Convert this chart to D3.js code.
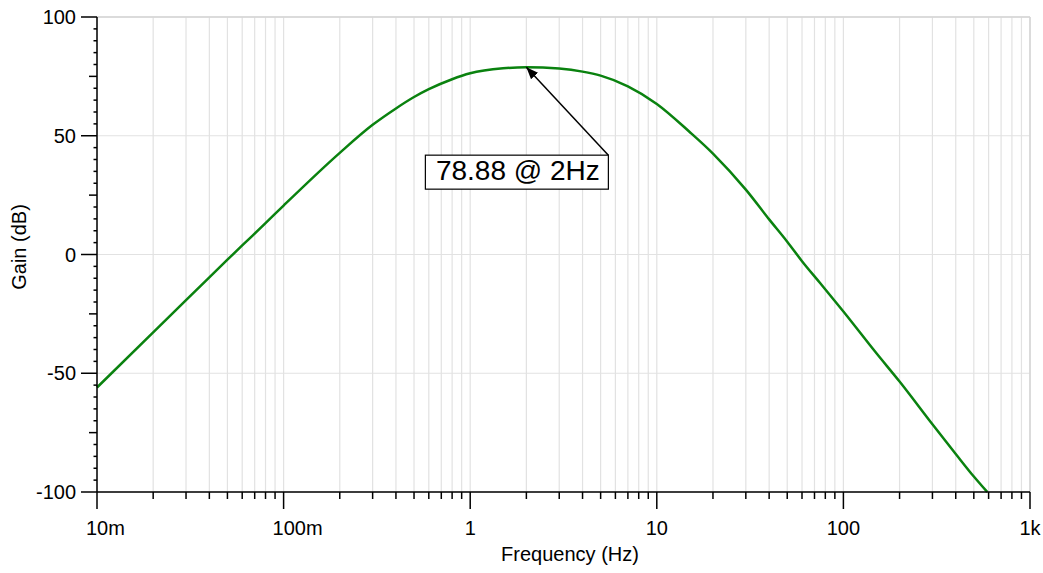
<!DOCTYPE html>
<html>
<head>
<meta charset="utf-8">
<script src="https://cdn.jsdelivr.net/npm/d3@7"></script>
<style>
  html, body { margin: 0; padding: 0; background: #fff; }
  svg { display: block; font-family: "Liberation Sans", Arial, sans-serif; }
</style>
</head>
<body>
<svg id="chart" width="1043" height="573"></svg>
<script>
// ---- data ----
const freqHz = [0.01, 0.02, 0.03, 0.04, 0.05, 0.06, 0.08, 0.1, 0.2, 0.3, 0.4, 0.5, 0.6, 0.8, 1, 1.5, 2, 3, 4, 5, 7, 10, 15, 20, 30, 40, 50, 60, 75, 100, 150, 200, 300, 400, 500, 590];
const gainDb = [-56, -32.8, -19.2, -9.6, -2.2, 3.8, 13.2, 20.6, 42.8, 54.6, 61.5, 66.3, 69.6, 73.8, 76.3, 78.4, 78.88, 78.3, 77.0, 75.3, 70.8, 63.4, 51.6, 42.5, 27.3, 14.8, 5.4, -2.8, -12, -24, -41.5, -53.5, -71.5, -84, -93.5, -100];
const xTickValues = [0.01, 0.1, 1, 10, 100, 1000];
const xTickLabels = ["10m", "100m", "1", "10", "100", "1k"];
const yTickValues = [-100, -50, 0, 50, 100];
const yTickLabels = ["-100", "-50", "0", "50", "100"];
const peakFreq = 2;
const peakGain = 78.88;
const annotationText = "78.88 @ 2Hz";
const xTitle = "Frequency (Hz)";
const yTitle = "Gain (dB)";

// ---- layout ----
const L = 97, R = 1030, T = 17, B = 492;
const svg = d3.select("#chart");
const x = d3.scaleLog().domain([0.01, 1000]).range([L, R]);
const y = d3.scaleLinear().domain([-100, 100]).range([B, T]);

const allXTicks = x.ticks(); // 1..9 multiples in each decade

// ---- grid ----
const grid = svg.append("g");
grid.selectAll("line.v").data(allXTicks).enter().append("line")
  .attr("x1", d => x(d)).attr("x2", d => x(d))
  .attr("y1", T).attr("y2", B)
  .attr("stroke", "#e2e2e2").attr("stroke-width", 1.2);
grid.selectAll("line.h").data(yTickValues).enter().append("line")
  .attr("x1", L).attr("x2", R)
  .attr("y1", d => y(d)).attr("y2", d => y(d))
  .attr("stroke", "#e2e2e2").attr("stroke-width", 1.2);
svg.append("line").attr("x1", L).attr("x2", R).attr("y1", T).attr("y2", T)
  .attr("stroke", "#d4d4d4").attr("stroke-width", 1.5);
svg.append("line").attr("x1", R).attr("x2", R).attr("y1", T).attr("y2", B)
  .attr("stroke", "#d4d4d4").attr("stroke-width", 1.5);

// ---- curve ----
const pts = freqHz.map((f, i) => [f, gainDb[i]]);
const line = d3.line().x(d => x(d[0])).y(d => y(d[1])).curve(d3.curveMonotoneX);
svg.append("path").datum(pts)
  .attr("d", line)
  .attr("fill", "none")
  .attr("stroke", "#0a820f")
  .attr("stroke-width", 2.5)
  .attr("stroke-linejoin", "round");

// ---- axes ----
const ax = svg.append("g").attr("stroke", "#000").attr("stroke-width", 1.5);
ax.append("line").attr("x1", L).attr("x2", L).attr("y1", T).attr("y2", B);
ax.append("line").attr("x1", L).attr("x2", R).attr("y1", B).attr("y2", B);

const yMinor = d3.range(-100, 100.001, 5);
ax.selectAll("line.yt").data(yMinor).enter().append("line")
  .attr("x1", d => L - (d % 50 === 0 ? 16 : (d % 25 === 0 ? 8 : 3.5)))
  .attr("x2", L)
  .attr("y1", d => y(d)).attr("y2", d => y(d));

ax.selectAll("line.xt").data(allXTicks).enter().append("line")
  .attr("x1", d => x(d)).attr("x2", d => x(d))
  .attr("y1", B)
  .attr("y2", d => B + (xTickValues.some(v => Math.abs(v - d) / v < 1e-6) ? 17 : 7));

// y tick labels
svg.selectAll("text.yl").data(yTickValues).enter().append("text")
  .attr("x", 76).attr("y", d => y(d))
  .attr("dy", "0.36em")
  .attr("text-anchor", "end")
  .attr("font-size", 20)
  .attr("fill", "#000")
  .text((d, i) => yTickLabels[i]);

// x tick labels: plain numbers centred; prefixed ("m") ones start 11px left of tick;
// the last one is kept inside the picture
svg.selectAll("text.xl").data(xTickValues).enter().append("text")
  .attr("y", 535)
  .attr("font-size", 20)
  .attr("fill", "#000")
  .text((d, i) => xTickLabels[i])
  .each(function (d, i) {
    const lab = xTickLabels[i];
    const w = this.getComputedTextLength();
    let x0;
    if (/m$/.test(lab)) x0 = x(d) - 11;
    else x0 = x(d) - w / 2;
    if (x0 + w > 1041) x0 = 1041 - w;
    d3.select(this).attr("x", x0);
  });

// axis titles
svg.append("text")
  .attr("x", 570).attr("y", 561)
  .attr("text-anchor", "middle")
  .attr("font-size", 20)
  .text(xTitle);
svg.append("text")
  .attr("transform", `translate(26, 247) rotate(-90)`)
  .attr("text-anchor", "middle")
  .attr("font-size", 20)
  .text(yTitle);

// ---- annotation ----
const px = x(peakFreq), py = y(peakGain);
const boxX = px - 101, boxY = py + 88, boxW = 183, boxH = 34;
svg.append("defs").append("marker")
  .attr("id", "arrow").attr("viewBox", "0 0 10 10")
  .attr("refX", 10).attr("refY", 5)
  .attr("markerWidth", 12).attr("markerHeight", 12)
  .attr("markerUnits", "userSpaceOnUse")
  .attr("orient", "auto")
  .append("path").attr("d", "M0,1 L10,5 L0,9 Z").attr("fill", "#000");
svg.append("line")
  .attr("x1", boxX + boxW).attr("y1", boxY)
  .attr("x2", px).attr("y2", py)
  .attr("stroke", "#000").attr("stroke-width", 1.5)
  .attr("marker-end", "url(#arrow)");
svg.append("rect")
  .attr("x", boxX).attr("y", boxY).attr("width", boxW).attr("height", boxH)
  .attr("fill", "#fff").attr("stroke", "#000").attr("stroke-width", 1.2);
svg.append("text")
  .attr("x", boxX + boxW / 2 + 1).attr("y", boxY + 25)
  .attr("text-anchor", "middle")
  .attr("font-size", 28)
  .text(annotationText);
</script>
</body>
</html>
